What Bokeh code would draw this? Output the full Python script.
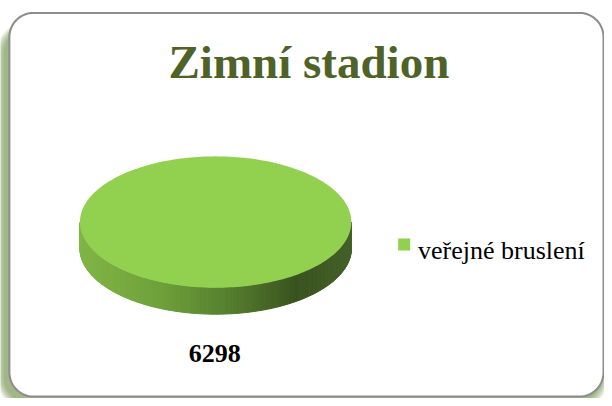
import math
from bokeh.plotting import figure
from bokeh.models import Range1d, Label
from bokeh.embed import file_html
from bokeh.resources import INLINE

# ---- data ----
title_text = "Zimní stadion"
categories = ["veřejné bruslení"]
values = [6298]
slice_colors = ["#92d050"]

# ---- canvas ----
W, H = 604, 398
KX, KY = W / 612.0, H / 406.0


def X(px):
    return px * KX


def Y(py):
    return (406 - py) * KY


p = figure(width=W, height=H, output_backend="svg", toolbar_location=None,
           x_range=Range1d(0, W), y_range=Range1d(0, H),
           x_axis_type=None, y_axis_type=None, min_border=0)
p.grid.visible = False
p.outline_line_color = None
p.background_fill_color = "white"
p.border_fill_color = "white"


def rounded_rect(x0, y0, x1, y1, r, n=14):
    xs, ys = [], []
    corners = [(x1 - r, y1 - r, 0.0), (x0 + r, y1 - r, math.pi / 2),
               (x0 + r, y0 + r, math.pi), (x1 - r, y0 + r, 1.5 * math.pi)]
    for cx_, cy_, a0 in corners:
        for k in range(n + 1):
            a = a0 + (math.pi / 2) * k / n
            xs.append(cx_ + r * math.cos(a))
            ys.append(cy_ + r * math.sin(a))
    return xs, ys


bx0, bx1 = X(9), X(611)
by0, by1 = Y(404), Y(12.7)

# soft shadow, offset down-left
for i in range(7):
    e = 0.5 + i * 1.2
    sx, sy = rounded_rect(bx0 - 5 - e, by0 - 5 - e, bx1 - 3 + e, by1 - 16 + e, 24 + e)
    p.patch(sx, sy, fill_color="#5f822c", fill_alpha=0.11, line_color=None)

# chart-area box
bx, by = rounded_rect(bx0, by0, bx1, by1, 24)
p.patch(bx, by, fill_color="white", line_color="#8c8c8c", line_width=2)

# ---- 3D pie ----
cx, cy = X(218), Y(226)
a_r, b_r = 137.5 * KX, 67.0 * KY
depth = 27.0 * KY

stops = [(0.0, (0x80, 0xb5, 0x47)), (0.3, (0x6f, 0xa0, 0x3a)),
         (0.55, (0x55, 0x7f, 0x2e)), (0.8, (0x3a, 0x53, 0x1f)),
         (1.0, (0x44, 0x61, 0x29))]


def ramp(t):
    for (t0, c0), (t1, c1) in zip(stops[:-1], stops[1:]):
        if t0 <= t <= t1:
            f = (t - t0) / (t1 - t0)
            c = [round(c0[j] + (c1[j] - c0[j]) * f) for j in range(3)]
            return "#%02x%02x%02x" % tuple(c)
    return "#%02x%02x%02x" % stops[-1][1]


# side wall (front half of the ellipse, extruded)
N = 180
xs_list, ys_list, cols = [], [], []
for i in range(N):
    t0 = math.pi + math.pi * i / N
    t1 = math.pi + math.pi * (i + 1) / N
    x0, x1 = cx + a_r * math.cos(t0), cx + a_r * math.cos(t1)
    y0, y1 = cy + b_r * math.sin(t0), cy + b_r * math.sin(t1)
    xs_list.append([x0, x1, x1, x0])
    ys_list.append([y0, y1, y1 - depth, y0 - depth])
    cols.append(ramp((math.cos((t0 + t1) / 2) + 1) / 2))
p.patches(xs_list, ys_list, fill_color=cols, line_color=cols, line_width=1)

# top faces of slices, computed from the values
total = sum(values)
start = math.pi / 2
for v, col in zip(values, slice_colors):
    sweep = 2 * math.pi * v / total
    steps = max(8, int(240 * v / total))
    px = [cx + a_r * math.cos(start - sweep * k / steps) for k in range(steps + 1)]
    py = [cy + b_r * math.sin(start - sweep * k / steps) for k in range(steps + 1)]
    if v < total:
        px = [cx] + px
        py = [cy] + py
    p.patch(px, py, fill_color=col, line_color=None)
    # data label below the pie
    p.add_layout(Label(x=cx - 1, y=Y(360), text=str(v),
                       text_font="Liberation Serif", text_font_size="26px",
                       text_font_style="bold", text_color="black",
                       text_align="center", text_baseline="alphabetic"))
    start -= sweep

# ---- title ----
p.add_layout(Label(x=X(312.5), y=Y(63), text=title_text, text_font="Liberation Serif",
                   text_font_size="47px", text_font_style="bold",
                   text_color="#4f6228", text_align="center",
                   text_baseline="alphabetic"))

# ---- legend ----
for i, (cat, col) in enumerate(zip(categories, slice_colors)):
    ly = Y(249 + i * 30)
    p.scatter([X(409)], [ly], marker="square", size=12, fill_color=col, line_color=None)
    p.add_layout(Label(x=X(423), y=ly - 6, text=cat, text_font="Liberation Serif",
                       text_font_size="26px", text_color="black",
                       text_align="left", text_baseline="alphabetic"))

open("out.html", "w").write(file_html(p, INLINE))
